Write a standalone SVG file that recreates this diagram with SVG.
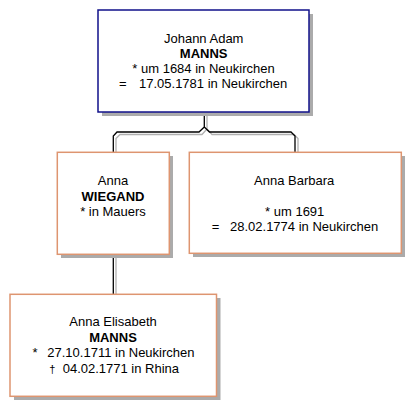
<svg xmlns="http://www.w3.org/2000/svg" width="420" height="416" viewBox="0 0 420 416">
<style>
.bg{fill:#ffffff}
.shadow{fill:#ababab}
.box{fill:#ffffff;stroke-width:1.5}
.main{stroke:#10108a}
.rel{stroke:#de9570}
.t{font-family:"Liberation Sans",Arial,sans-serif;font-size:13px;fill:#000000}
.c{text-anchor:middle}
.b{font-weight:bold}
.ln{fill:none;stroke:#000000;stroke-width:1.3}
.lns{fill:none;stroke:#b0b0b0;stroke-width:1.3}
</style>
<rect class="bg" x="0" y="0" width="420" height="416"/>
<g id="connectors">
<path class="lns" d="M207,115 V129 L202,134.5 H120 L116,138.5 V152 M207,129 L212,134.5 H294 L298,138.5 V152"/>
<path class="lns" d="M116,258 V294"/>
<path class="ln" d="M204.3,112 V127 L199,132 H117 L113.3,136 V152 M204.3,127 L209.5,132 H291 L295,136 V152"/>
<path class="ln" d="M113.3,254 V294"/>
</g>
<g id="johann">
<rect class="shadow" x="102" y="14" width="211" height="102"/>
<rect class="box main" x="98" y="10" width="211" height="102"/>
<text class="t c" x="203.7" y="43">Johann Adam</text>
<text class="t c b" x="203.7" y="58">MANNS</text>
<text class="t c" x="203.5" y="73">* um 1684 in Neukirchen</text>
<text class="t" y="88"><tspan x="119">=</tspan><tspan x="139">17.05.1781 in Neukirchen</tspan></text>
</g>
<g id="anna">
<rect class="shadow" x="61" y="156" width="112" height="102"/>
<rect class="box rel" x="57.3" y="152.3" width="112" height="102"/>
<text class="t c" x="113" y="185">Anna</text>
<text class="t c b" x="113" y="200.5">WIEGAND</text>
<text class="t c" x="113" y="216">* in Mauers</text>
</g>
<g id="annabarbara">
<rect class="shadow" x="193" y="156" width="212" height="101"/>
<rect class="box rel" x="189.3" y="152.3" width="212" height="101"/>
<text class="t c" x="294.2" y="185">Anna Barbara</text>
<text class="t c" x="294.7" y="216">* um 1691</text>
<text class="t" y="231"><tspan x="211.7">=</tspan><tspan x="230">28.02.1774 in Neukirchen</tspan></text>
</g>
<g id="annaelisabeth">
<rect class="shadow" x="14" y="298" width="206.5" height="102"/>
<rect class="box rel" x="10" y="294.3" width="206.5" height="102"/>
<text class="t c" x="113" y="326">Anna Elisabeth</text>
<text class="t c b" x="113" y="341.5">MANNS</text>
<text class="t" y="357"><tspan x="32.5">*</tspan><tspan x="47.3">27.10.1711 in Neukirchen</tspan></text>
<text class="t" y="372.5"><tspan x="49.3" font-size="11">†</tspan><tspan x="62.7">04.02.1771 in Rhina</tspan></text>
</g>
</svg>
